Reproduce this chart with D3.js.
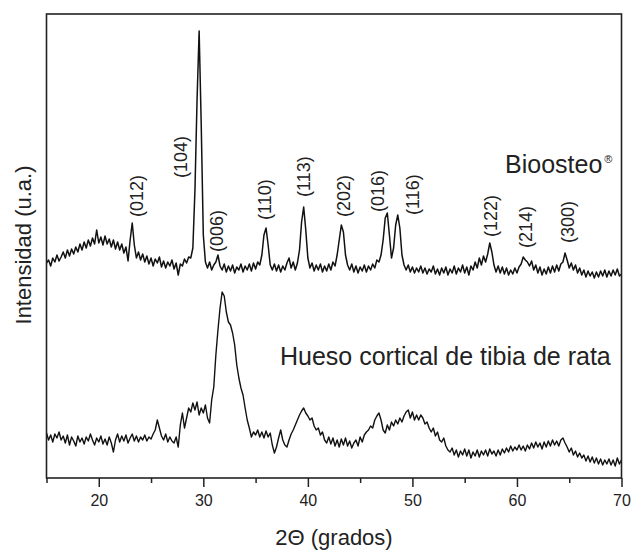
<!DOCTYPE html>
<html lang="es">
<head>
<meta charset="UTF-8">
<title>DRX Bioosteo / hueso cortical</title>
<script src="https://d3js.org/d3.v7.min.js"></script>
<style>
  body { margin: 0; background: #fff; }
  svg { display: block; font-family: "Liberation Sans", Arial, Helvetica, sans-serif; }
</style>
</head>
<body>
<div id="chart"></div>
<script>
// 2-theta grid: 15 to 70 deg, one reading every 0.2 deg
const thetaStart = 15
const thetaStep = 0.2

// Bioosteo pattern (arbitrary units)
const bioosteo = [
  215,218,212,220,216, 223,217,221,226,220, 228,222,229,224,231, 226,234,228,236,230,
  238,232,240,234,248, 235,241,233,242,234, 239,231,238,229,236, 228,234,225,231,217,
  238,255,233,220,226, 218,224,216,222,214, 220,212,219,215,221, 211,217,210,216,212,
  218,209,215,203,214, 212,219,215,221,220, 230,288,378,447,353, 243,216,210,216,208,
  213,216,223,212,208, 214,206,212,207,213, 205,211,208,214,206, 212,208,214,207,215,
  209,216,213,223,243, 250,233,213,208,214, 207,213,206,212,208, 215,220,210,216,208,
  215,228,256,271,248, 220,210,215,207,213, 208,214,206,212,207, 214,208,216,212,223,
  238,253,246,223,213, 208,214,206,212,205, 211,207,213,206,212, 208,214,210,218,216,
  223,238,260,265,243, 220,230,253,263,250, 223,213,208,213,206, 211,205,210,206,212,
  205,210,204,209,206, 212,204,209,203,210, 205,211,203,209,205, 212,204,210,206,213,
  205,211,203,212,208, 216,210,220,213,222, 216,224,235,226,213, 206,212,205,211,204,
  210,203,208,204,210, 205,211,214,221,218, 216,212,217,208,213, 205,211,203,209,204,
  211,205,212,206,213, 207,214,216,225,218, 210,215,208,213,205, 210,203,208,201,207,
  202,206,200,206,201, 207,202,208,201,207, 202,208,203,209,202, 204
]

// rat tibia cortical bone pattern
const hueso = [
  45,38,43,36,44, 40,46,38,42,35, 43,33,41,37,32, 42,36,40,34,41,
  37,44,38,33,40, 36,42,34,39,33, 41,35,26,38,44, 36,42,37,43,35,
  40,44,37,42,36, 41,38,43,37,41, 39,44,48,58,50, 42,38,44,36,41,
  37,35,41,31,53, 65,50,60,70,66, 75,68,76,63,70, 65,73,60,55,78,
  91,123,148,170,186, 182,166,156,153,145, 133,113,100,90,83, 70,58,50,41,46,
  43,48,41,46,40, 47,41,45,33,25, 31,40,48,38,33, 31,38,44,48,53,
  58,63,67,70,65, 62,58,60,52,48, 50,43,46,38,35, 41,34,40,32,38,
  31,39,33,40,32, 37,30,35,38,32, 41,36,43,46,48, 52,50,58,62,65,
  58,48,45,53,48, 56,52,58,54,60, 56,62,66,68,60, 66,58,63,58,63,
  60,54,56,50,46, 50,42,46,38,36, 40,32,28,26,30, 23,28,21,27,23,
  29,22,28,20,26, 22,28,21,27,23, 28,22,29,24,27, 22,28,23,29,25,
  30,26,32,27,31, 28,33,28,32,27, 33,29,35,30,36, 31,35,29,36,31,
  37,32,38,33,37, 32,38,40,35,31, 26,30,23,27,21, 25,20,23,17,22,
  16,21,15,20,14, 19,13,18,14,19, 13,18,12,20,14, 18
]

// Miller indices of the calcite reflections and where they sit
const millerLabels = ["(012)","(104)","(006)","(110)","(113)","(202)","(016)","(116)","(122)","(214)","(300)"]
const millerTheta  = [23.6, 27.8, 31.3, 35.9, 39.6, 43.4, 46.7, 50.0, 57.5, 60.8, 64.9]
const millerLevel  = [261, 300, 226, 258, 281, 261, 266, 263, 241, 230, 235]

const majorTicks = [20, 30, 40, 50, 60, 70]
const minorTicks = [15, 25, 35, 45, 55, 65]

const width = 632, height = 550
const margin = {top: 14, right: 10.5, bottom: 72, left: 46.5}

const svg = d3.select("#chart").append("svg")
    .attr("width", width)
    .attr("height", height)

const x = d3.scaleLinear()
    .domain([15, 70])
    .range([margin.left, width - margin.right])

const y = d3.scaleLinear()
    .domain([0, 464])
    .range([height - margin.bottom, margin.top])

const line = d3.line()
    .x((d, i) => x(thetaStart + i * thetaStep))
    .y(d => y(d))

// curves
svg.append("path")
    .datum(bioosteo)
    .attr("fill", "none")
    .attr("stroke", "#111")
    .attr("stroke-width", 1.5)
    .attr("stroke-linejoin", "round")
    .attr("d", line)

svg.append("path")
    .datum(hueso)
    .attr("fill", "none")
    .attr("stroke", "#111")
    .attr("stroke-width", 1.4)
    .attr("stroke-linejoin", "round")
    .attr("d", line)

// bottom axis, major + minor ticks
const xAxis = svg.append("g")
    .attr("transform", `translate(0, ${height - margin.bottom})`)
    .call(d3.axisBottom(x).tickValues(majorTicks).tickSize(9).tickPadding(8).tickSizeOuter(0))
xAxis.select(".domain").remove()
xAxis.selectAll(".tick line").attr("stroke", "#222").attr("stroke-width", 1.5)
xAxis.selectAll(".tick text")
    .attr("fill", "#222")
    .style("font-size", "16px")
    .style("font-family", "'Liberation Sans', Arial, sans-serif")

const xMinor = svg.append("g")
    .attr("transform", `translate(0, ${height - margin.bottom})`)
    .call(d3.axisBottom(x).tickValues(minorTicks).tickSize(5).tickFormat("").tickSizeOuter(0))
xMinor.select(".domain").remove()
xMinor.selectAll(".tick line").attr("stroke", "#222").attr("stroke-width", 1.5)

// frame
svg.append("rect")
    .attr("x", x(15))
    .attr("y", y(464))
    .attr("width", x(70) - x(15))
    .attr("height", y(0) - y(464))
    .attr("fill", "none")
    .attr("stroke", "#222")
    .attr("stroke-width", 1.6)

// reflection labels, vertical
svg.selectAll(".miller")
    .data(millerLabels)
    .join("text")
    .attr("class", "miller")
    .attr("transform", (d, i) => `translate(${x(millerTheta[i])}, ${y(millerLevel[i])}) rotate(-90)`)
    .attr("dy", "0.35em")
    .attr("text-anchor", "start")
    .attr("fill", "#222")
    .style("font-size", "18px")
    .text(d => d)

// sample names
const bio = svg.append("text")
    .attr("x", 505)
    .attr("y", 173)
    .attr("fill", "#222")
    .style("font-size", "25px")
bio.append("tspan").text("Bioosteo")
bio.append("tspan").attr("dx", 2).attr("dy", -10).style("font-size", "11px").text("®")

svg.append("text")
    .attr("x", 280)
    .attr("y", 365)
    .attr("fill", "#222")
    .style("font-size", "25px")
    .text("Hueso cortical de tibia de rata")

// axis titles
svg.append("text")
    .attr("x", 334)
    .attr("y", 545)
    .attr("text-anchor", "middle")
    .attr("fill", "#222")
    .style("font-size", "22px")
    .text("2\u0398 (grados)")

svg.append("text")
    .attr("transform", "translate(31, 245) rotate(-90)")
    .attr("text-anchor", "middle")
    .attr("fill", "#222")
    .style("font-size", "22px")
    .text("Intensidad (u.a.)")
</script>
</body>
</html>
